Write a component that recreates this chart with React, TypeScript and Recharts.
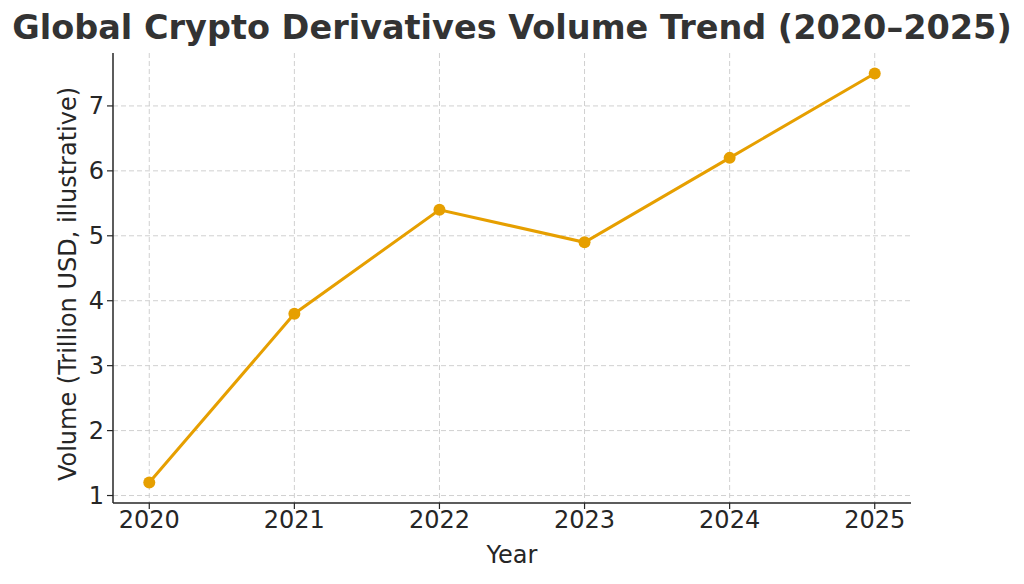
import React from 'react';
import { LineChart, Line, XAxis, YAxis, CartesianGrid, Label } from 'recharts';

const years = [2020, 2021, 2022, 2023, 2024, 2025];
const volumes = [1.2, 3.8, 5.4, 4.9, 6.2, 7.5];
const yTicks = [1, 2, 3, 4, 5, 6, 7];
const title = 'Global Crypto Derivatives Volume Trend (2020–2025)';
const xLabel = 'Year';
const yLabel = 'Volume (Trillion USD, illustrative)';

const X_DOMAIN: [number, number] = [2019.75, 2025.25];
const Y_DOMAIN: [number, number] = [0.885, 7.815];

const data = years.map((y, i) => ({ year: y, volume: volumes[i] }));

const FONT = '"DejaVu Sans", sans-serif';
const TEXT = '#262626';

const vGen = ({ offset }: any) =>
  years.map((y) => offset.left + ((y - X_DOMAIN[0]) / (X_DOMAIN[1] - X_DOMAIN[0])) * offset.width);
const hGen = ({ offset }: any) =>
  yTicks.map((v) => offset.top + offset.height - ((v - Y_DOMAIN[0]) / (Y_DOMAIN[1] - Y_DOMAIN[0])) * offset.height);

export default function App() {
  return (
    <div style={{ position: 'absolute', left: 0, top: 0, width: 1024, height: 584, background: '#fff', fontFamily: FONT }}>
      <div style={{ position: 'absolute', left: 0, top: 8, width: 1024, textAlign: 'center', fontSize: 33.5, fontWeight: 'bold', color: '#333', lineHeight: '40px', whiteSpace: 'nowrap' }}>
        {title}
      </div>
      <LineChart width={1024} height={584} data={data} margin={{ top: 53, right: 113, bottom: 51, left: 53 }}>
        <CartesianGrid
          stroke="#d0d0d0"
          strokeDasharray="5 3"
          strokeWidth={1}
          verticalCoordinatesGenerator={vGen}
          horizontalCoordinatesGenerator={hGen}
        />
        <XAxis
          dataKey="year"
          type="number"
          domain={X_DOMAIN}
          ticks={years}
          allowDataOverflow
          height={30}
          axisLine={{ stroke: '#262626', strokeWidth: 1.5 }}
          tickLine={{ stroke: '#262626', strokeWidth: 1.2 }}
          tickSize={6}
          tick={{ fill: TEXT, fontSize: 24, fontFamily: FONT }}
          tickMargin={2}
        >
          <Label
            content={() => (
              <text x={512} y={563} textAnchor="middle" fill={TEXT} fontSize={24} fontFamily={FONT}>
                {xLabel}
              </text>
            )}
          />
        </XAxis>
        <YAxis
          type="number"
          domain={Y_DOMAIN}
          ticks={yTicks}
          allowDataOverflow
          width={60}
          axisLine={{ stroke: '#262626', strokeWidth: 1.5 }}
          tickLine={{ stroke: '#262626', strokeWidth: 1.2 }}
          tickSize={6}
          tick={{ fill: TEXT, fontSize: 24, fontFamily: FONT }}
          tickMargin={3}
        >
          <Label
            content={() => (
              <text x={76} y={284} transform="rotate(-90 76 284)" textAnchor="middle" fill={TEXT} fontSize={24} fontFamily={FONT}>
                {yLabel}
              </text>
            )}
          />
        </YAxis>
        <Line
          type="linear"
          dataKey="volume"
          stroke="#E69F00"
          strokeWidth={3}
          dot={{ r: 6, fill: '#E69F00', stroke: '#E69F00', strokeWidth: 0 }}
          isAnimationActive={false}
        />
      </LineChart>
    </div>
  );
}
